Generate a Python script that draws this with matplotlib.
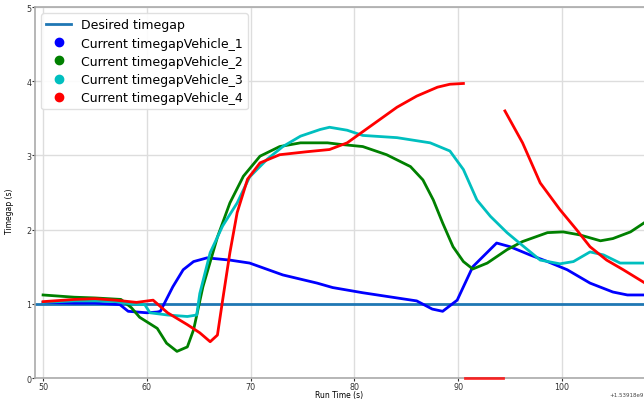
import numpy as np
import matplotlib
matplotlib.use("Agg")
import matplotlib.pyplot as plt
from matplotlib.lines import Line2D

# values (x = run time offset, y = timegap in s)
desired_gap = 1.0

v1_x = [50, 53, 55, 57.4, 58.2, 60, 61, 61.3, 62.5, 63.5, 64.5, 65.8, 68, 69.9, 73.1, 76.4, 77.9,
        80.8, 84.1, 86, 87.5, 88.5, 89.9, 91.4, 93.7, 95, 96.9, 98.6, 100.5, 102.7, 104.9, 106.3, 108]
v1_y = [1.02, 1.01, 1.01, 0.99, 0.9, 0.88, 0.89, 0.9, 1.23, 1.46, 1.57, 1.62, 1.59, 1.55, 1.39, 1.28, 1.22,
        1.15, 1.08, 1.04, 0.93, 0.9, 1.05, 1.5, 1.82, 1.77, 1.66, 1.57, 1.46, 1.28, 1.16, 1.12, 1.12]

v2_x = [50, 53, 55, 57.5, 58.5, 59.3, 61, 61.9, 62.9, 63.9, 64.5, 65.4, 66.8, 68, 69.3, 70.9, 72.8, 74.8,
        77.4, 78.6, 80.8, 83.1, 85.4, 86.6, 87.6, 88.5, 89.5, 90.5, 91.4, 92.8, 94.7, 96.2, 98.6, 100.1,
        101.7, 103.7, 104.9, 106.6, 108]
v2_y = [1.12, 1.09, 1.08, 1.06, 0.95, 0.82, 0.67, 0.47, 0.36, 0.42, 0.65, 1.23, 1.9, 2.36, 2.72, 2.99, 3.12, 3.17,
        3.17, 3.15, 3.12, 3.01, 2.85, 2.67, 2.4, 2.09, 1.77, 1.57, 1.47, 1.55, 1.73, 1.84, 1.96, 1.97,
        1.93, 1.85, 1.88, 1.97, 2.1]

v3_x = [50, 53, 55, 57, 58.5, 59.8, 60.3, 62, 63.9, 64.8, 65.1, 66.1, 67.3, 68.7, 69.9, 71.6, 73.1, 74.8,
        76.7, 77.6, 79.3, 80.8, 84.1, 87.3, 89.2, 90.5, 91.8, 93.1, 94.7, 95.9, 97.9, 99.8, 101.1, 102.7,
        104, 105.6, 108]
v3_y = [1.02, 1.04, 1.04, 1.03, 1.0, 0.99, 0.88, 0.85, 0.83, 0.85, 1.14, 1.69, 2.05, 2.36, 2.71, 2.95, 3.12, 3.26,
        3.35, 3.38, 3.34, 3.27, 3.24, 3.17, 3.06, 2.81, 2.4, 2.18, 1.96, 1.82, 1.59, 1.54, 1.57, 1.7,
        1.66, 1.55, 1.55]

v4a_x = [50, 53, 55, 57, 59, 60.6, 62, 63.9, 65.1, 66.1, 66.8, 67.3, 68, 68.7, 69.7, 70.9, 72.8, 75.4,
         77.6, 79.3, 80.8, 82.5, 84.1, 86, 88, 89.2, 90.5]
v4a_y = [1.03, 1.06, 1.07, 1.05, 1.02, 1.05, 0.88, 0.72, 0.61, 0.49, 0.58, 1.05, 1.69, 2.23, 2.68, 2.9, 3.01, 3.05,
         3.08, 3.17, 3.32, 3.49, 3.65, 3.8, 3.92, 3.96, 3.97]
v4b_x = [90.7, 94.3]
v4b_y = [0.0, 0.0]
v4c_x = [94.5, 96.2, 97.9, 99.8, 101.4, 102.7, 104.3, 105.9, 108]
v4c_y = [3.6, 3.17, 2.63, 2.27, 2.0, 1.77, 1.59, 1.46, 1.28]

labels = ["Desired timegap", "Current timegapVehicle_1", "Current timegapVehicle_2",
          "Current timegapVehicle_3", "Current timegapVehicle_4"]

fig = plt.figure(figsize=(6.44, 4.02), dpi=100)
ax = fig.add_axes([0.054, 0.057, 0.946, 0.923])

ax.axhline(desired_gap, color="#1f77b4", lw=2, zorder=1)
lw = 2.0
ax.plot(v1_x, v1_y, color="blue", lw=lw)
ax.plot(v2_x, v2_y, color="green", lw=lw)
ax.plot(v3_x, v3_y, color="c", lw=lw)
ax.plot(v4a_x, v4a_y, color="red", lw=lw)
ax.plot(v4b_x, v4b_y, color="red", lw=lw, clip_on=False, zorder=5, alpha=0.8)
ax.plot(v4c_x, v4c_y, color="red", lw=lw)

ax.set_xlim(49.2, 107.9)
ax.set_ylim(0, 5)
ax.set_xticks([50, 60, 70, 80, 90, 100])
ax.set_yticks([0, 1, 2, 3, 4, 5])
ax.grid(True, color="#dddddd", lw=1)
ax.set_axisbelow(True)
ax.spines["right"].set_visible(False)
for s in ["left", "bottom", "top"]:
    ax.spines[s].set_color("#aaaaaa")
    ax.spines[s].set_linewidth(1.2)
ax.tick_params(labelsize=5.8, colors="#333333", length=2, pad=0.5)
ax.set_xlabel("Run Time (s)", fontsize=5.5, va="center")
ax.set_ylabel("Timegap (s)", fontsize=5.5)
ax.xaxis.set_label_coords(0.5, -0.044)
ax.yaxis.set_label_coords(-0.034, 0.453)
fig.text(0.999, 0.012, "+1.53918e9", fontsize=4, color="#444444", ha="right")

handles = [Line2D([], [], color="#1f77b4", lw=2)]
for c in ["blue", "green", "c", "red"]:
    handles.append(Line2D([], [], color=c, marker="o", ls="none", markersize=6))
ax.legend(handles, labels, loc="upper left", fontsize=9, framealpha=0.9,
          edgecolor="#dddddd", borderaxespad=0.5, handletextpad=0.8, labelspacing=0.42)

fig.savefig("out.png", dpi=100)
